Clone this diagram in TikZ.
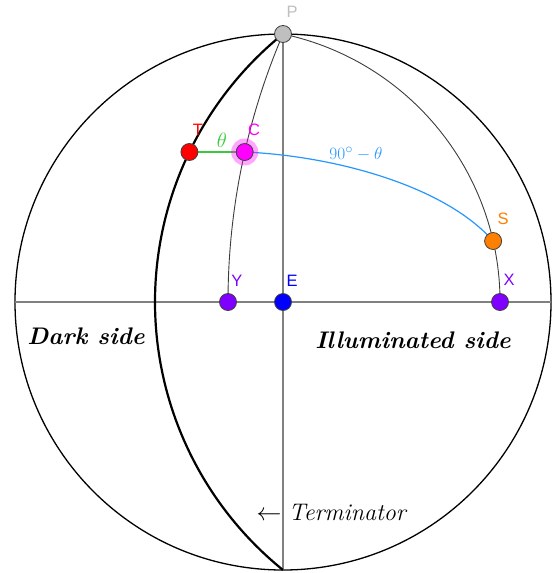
\documentclass[tikz,border=0pt]{standalone}
\usepackage{fontspec}
\newfontfamily\labfont{Liberation Sans}
\definecolor{ptgray}{RGB}{191,191,191}
\definecolor{ptorange}{RGB}{255,127,0}
\definecolor{ptpurple}{RGB}{127,0,255}
\definecolor{ptmag}{RGB}{255,0,255}
\definecolor{ggreen}{RGB}{60,200,60}
\definecolor{gblue}{RGB}{40,150,255}
\definecolor{axisgray}{RGB}{128,128,128}
\definecolor{merid}{RGB}{60,60,60}
\begin{document}
\begin{tikzpicture}[x=1pt,y=-1pt,
  pt/.style={circle, draw=black!75, line width=0.8pt, minimum size=17pt, inner sep=0pt},
  lab/.style={font=\labfont\fontsize{16.5}{19}\selectfont, inner sep=0pt},
  mathlab/.style={font=\fontsize{19}{22}\selectfont, inner sep=0pt},
  big/.style={font=\fontsize{24}{28}\selectfont, inner sep=0pt},
  axisline/.style={draw=axisgray, line width=1.4pt},
  meridline/.style={draw=merid, line width=0.9pt},
  termline/.style={draw=black, line width=2.2pt},
  rimline/.style={draw=black, line width=1.3pt}]
\useasboundingbox (0,0) rectangle (555,573);
% key coordinates
\coordinate (Ec) at (283,302);
\coordinate (Pc) at (283,34);
\coordinate (Sp) at (283,570);
\coordinate (Wrim) at (15,302);
\coordinate (Erim) at (551,302);
\coordinate (Tc) at (189.4,152);
\coordinate (Cc) at (244.7,152);
\coordinate (Sc) at (493.1,241);
\coordinate (Yc) at (228,302);
\coordinate (Xc) at (500,302);
% sphere outline
\draw[rimline] (Ec) circle[radius=268];
% axes
\draw[axisline] (Wrim) -- (Erim);
\draw[axisline] (Pc) -- (Sp);
% meridians
\draw[meridline] (Pc) arc[start angle=203.19, end angle=180, radius=680.4];
\draw[meridline] (Pc) arc[start angle=-78.0, end angle=0, radius=274.0];
% terminator
\draw[termline] (Pc) arc[start angle=231.06, end angle=128.94, radius=344.56];
% theta and 90-theta
\draw[draw=ggreen, line width=1.2pt] (Tc) -- (Cc);
\draw[draw=gblue, line width=1.2pt] (Cc) .. controls (335,156) and (445,186) .. (Sc);
% halo of C
\fill[ptmag, opacity=0.35] (Cc) circle[radius=13.5];
% points
\node[pt, fill=ptgray] (P) at (Pc) {};
\node[pt, fill=red] (T) at (Tc) {};
\node[pt, fill=ptmag] (C) at (Cc) {};
\node[pt, fill=ptorange] (S) at (Sc) {};
\node[pt, fill=ptpurple] (Y) at (Yc) {};
\node[pt, fill=blue] (E) at (Ec) {};
\node[pt, fill=ptpurple] (X) at (Xc) {};
% point labels
\node[lab, text=ptgray] (Pl) at (292,12) {P};
\node[lab, text=red] (Tl) at (198,130) {T};
\node[lab, text=ptmag] (Cl) at (254,130) {C};
\node[lab, text=ptorange] (Sl) at (503,219) {S};
\node[lab, text=ptpurple] (Yl) at (237,281) {Y};
\node[lab, text=blue] (El) at (292,281) {E};
\node[lab, text=ptpurple] (Xl) at (509,280) {X};
% angle labels
\node[mathlab, text=ggreen, font=\fontsize{22}{26}\selectfont] (th) at (222,140) {$\theta$};
\node[mathlab, text=gblue] (cth) at (356,154) {$90^\circ-\theta$};
% region labels
\node[big] (dark) at (86,336) {\bfseries\itshape Dark side};
\node[big] (illum) at (413,340) {\bfseries\itshape Illuminated side};
\node[big] (term) at (332,512) {$\leftarrow$ \textit{Terminator}};
\end{tikzpicture}
\end{document}
